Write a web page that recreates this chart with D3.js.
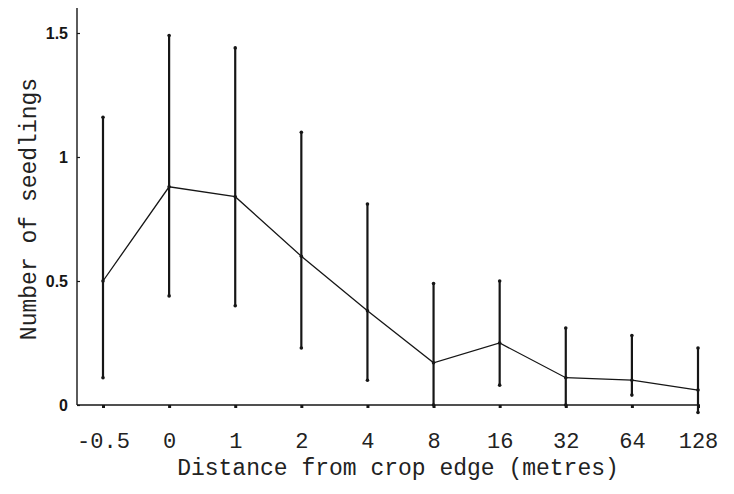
<!DOCTYPE html>
<html>
<head>
<meta charset="utf-8">
<script src="https://cdn.jsdelivr.net/npm/d3@7"></script>
<style>
  html, body { margin: 0; padding: 0; background: #fff; }
  svg { display: block; }
</style>
</head>
<body>
<svg id="chart" width="734" height="494"></svg>
<script>
// Distance classes from the crop edge (metres)
const distances = ["-0.5", "0", "1", "2", "4", "8", "16", "32", "64", "128"];
// Mean number of seedlings per distance class
const meanSeedlings = [0.50, 0.88, 0.84, 0.60, 0.38, 0.17, 0.25, 0.11, 0.10, 0.06];
// Error bar limits
const errLow  = [0.11, 0.44, 0.40, 0.23, 0.10, 0.00, 0.08, 0.00, 0.04, -0.03];
const errHigh = [1.16, 1.49, 1.44, 1.10, 0.81, 0.49, 0.50, 0.31, 0.28, 0.23];
// Y axis tick values and labels
const yTicks = [0, 0.5, 1, 1.5];
const yTickLabels = ["0", "0.5", "1", "1.5"];

const rows = distances.map((d, i) => ({
  d, mean: meanSeedlings[i], lo: errLow[i], hi: errHigh[i]
}));

const svg = d3.select("#chart");
const axisX = 77, axisY = 405, topY = 8;

const x = d3.scalePoint().domain(distances).range([103, 698]);
const y = d3.scaleLinear().domain([0, 1.5]).range([axisY, 33]);

const ink = "#161616";
const textInk = "#222";
const mono = "'Liberation Mono', 'DejaVu Sans Mono', monospace";

// Y axis
const yAxis = svg.append("g")
  .attr("transform", `translate(${axisX},0)`)
  .call(d3.axisLeft(y).tickValues(yTicks)
    .tickFormat((v, i) => yTickLabels[i])
    .tickSize(-3).tickPadding(9));
yAxis.select(".domain").remove();
yAxis.selectAll(".tick line").attr("stroke", ink).attr("stroke-width", 1.2);
yAxis.selectAll(".tick text")
  .attr("fill", ink)
  .style("font-family", "'Liberation Sans', Arial, sans-serif")
  .style("font-weight", "bold")
  .style("font-size", "16px");
svg.append("line")
  .attr("x1", axisX).attr("x2", axisX)
  .attr("y1", topY).attr("y2", axisY)
  .attr("stroke", ink).attr("stroke-width", 1.4);

// X axis
const xAxis = svg.append("g")
  .attr("transform", `translate(0,${axisY})`)
  .call(d3.axisBottom(x).tickSize(3).tickPadding(0));
xAxis.select(".domain").remove();
xAxis.selectAll(".tick line").attr("stroke", ink).attr("stroke-width", 3);
xAxis.selectAll(".tick text")
  .attr("dy", null)
  .attr("y", 43)
  .attr("fill", textInk)
  .style("font-family", mono)
  .style("font-size", "22px");
svg.append("line")
  .attr("x1", axisX).attr("x2", x("128") + 2)
  .attr("y1", axisY).attr("y2", axisY)
  .attr("stroke", ink).attr("stroke-width", 1.4);

// Axis titles
svg.append("text")
  .attr("x", 398).attr("y", 475)
  .attr("text-anchor", "middle")
  .attr("fill", textInk)
  .style("font-family", mono)
  .style("font-size", "23px")
  .text("Distance from crop edge (metres)");

svg.append("text")
  .attr("transform", "translate(36,209) rotate(-90)")
  .attr("text-anchor", "middle")
  .attr("fill", textInk)
  .style("font-family", mono)
  .style("font-size", "23px")
  .text("Number of seedlings");

// Error bars
const bars = svg.append("g");
bars.selectAll("line.err").data(rows).join("line")
  .attr("class", "err")
  .attr("x1", r => x(r.d)).attr("x2", r => x(r.d))
  .attr("y1", r => y(r.lo)).attr("y2", r => y(r.hi))
  .attr("stroke", ink).attr("stroke-width", 2.2);
bars.selectAll("circle.cap").data(rows.flatMap(r => [[r.d, r.lo], [r.d, r.hi]])).join("circle")
  .attr("class", "cap")
  .attr("cx", c => x(c[0])).attr("cy", c => y(c[1]))
  .attr("r", 1.8).attr("fill", ink);

// Mean line
svg.append("path")
  .datum(rows)
  .attr("fill", "none")
  .attr("stroke", ink)
  .attr("stroke-width", 1.3)
  .attr("d", d3.line().x(r => x(r.d)).y(r => y(r.mean)));
svg.append("g").selectAll("circle").data(rows).join("circle")
  .attr("cx", r => x(r.d)).attr("cy", r => y(r.mean))
  .attr("r", 1.8).attr("fill", ink);
</script>
</body>
</html>
